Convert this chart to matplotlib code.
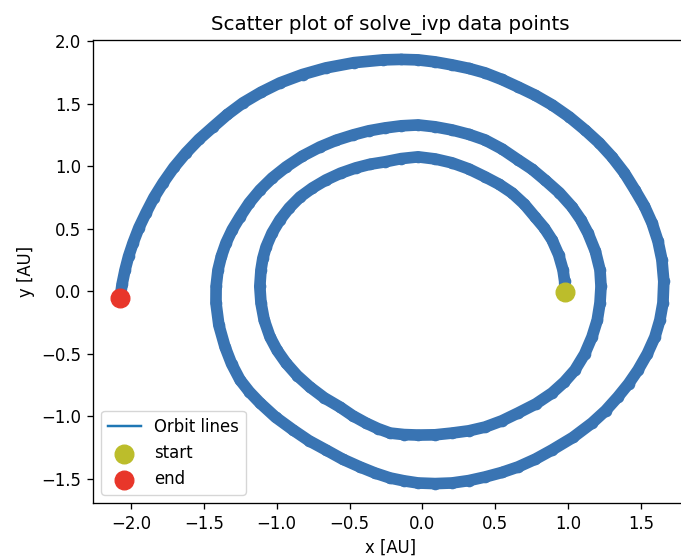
#!/usr/bin/env python3
"""Spiral orbit from solve_ivp, drawn as a dense scatter with start/end markers."""

import matplotlib
matplotlib.use("Agg")
import matplotlib.pyplot as plt

# orbit samples (x, y in AU), in time order
orbit_x = [0.979, 0.976, 0.965, 0.935, 0.890, 0.837, 0.773, 0.700, 0.615, 0.526,
           0.430, 0.319, 0.203, 0.088, -0.030, -0.145, -0.257, -0.359, -0.456, -0.562,
           -0.662, -0.755, -0.840, -0.914, -0.978, -1.032, -1.073, -1.095, -1.108, -1.116,
           -1.108, -1.086, -1.046, -0.997, -0.936, -0.860, -0.772, -0.674, -0.566, -0.479,
           -0.387, -0.306, -0.222, -0.126, -0.030, 0.087, 0.203, 0.319, 0.430, 0.546,
           0.656, 0.779, 0.890, 0.974, 1.047, 1.114, 1.164, 1.200, 1.219, 1.226,
           1.219, 1.187, 1.136, 1.087, 1.027, 0.940, 0.841, 0.753, 0.656, 0.546,
           0.430, 0.318, 0.203, 0.087, -0.030, -0.145, -0.257, -0.368, -0.476, -0.593,
           -0.703, -0.825, -0.936, -1.031, -1.115, -1.189, -1.252, -1.305, -1.348, -1.380,
           -1.403, -1.416, -1.417, -1.397, -1.355, -1.310, -1.252, -1.188, -1.115, -1.008,
           -0.888, -0.779, -0.662, -0.547, -0.428, -0.326, -0.222, -0.126, -0.030, 0.087,
           0.203, 0.318, 0.430, 0.545, 0.656, 0.776, 0.890, 1.033, 1.164, 1.258,
           1.342, 1.415, 1.480, 1.544, 1.596, 1.630, 1.651, 1.657, 1.644, 1.617,
           1.576, 1.524, 1.459, 1.386, 1.301, 1.213, 1.116, 1.007, 0.890, 0.775,
           0.656, 0.544, 0.430, 0.318, 0.203, 0.087, -0.030, -0.150, -0.270, -0.469,
           -0.662, -0.823, -0.978, -1.108, -1.232, -1.338, -1.437, -1.534, -1.622, -1.706,
           -1.780, -1.843, -1.897, -1.946, -1.986, -2.017, -2.041, -2.061, -2.075]
orbit_y = [-0.006, 0.082, 0.170, 0.292, 0.410, 0.505, 0.594, 0.695, 0.786, 0.855,
           0.914, 0.977, 1.026, 1.057, 1.074, 1.060, 1.034, 1.015, 0.986, 0.943,
           0.889, 0.825, 0.753, 0.666, 0.570, 0.465, 0.354, 0.263, 0.170, 0.038,
           -0.094, -0.232, -0.366, -0.473, -0.574, -0.674, -0.766, -0.852, -0.926, -0.995,
           -1.054, -1.098, -1.134, -1.146, -1.150, -1.148, -1.134, -1.116, -1.086, -1.036,
           -0.974, -0.901, -0.814, -0.726, -0.630, -0.502, -0.366, -0.232, -0.094, 0.038,
           0.170, 0.320, 0.466, 0.573, 0.674, 0.787, 0.889, 0.975, 1.050, 1.137,
           1.209, 1.254, 1.289, 1.314, 1.329, 1.322, 1.305, 1.282, 1.249, 1.206,
           1.153, 1.079, 0.993, 0.905, 0.809, 0.705, 0.594, 0.492, 0.386, 0.279,
           0.170, 0.038, -0.094, -0.272, -0.445, -0.580, -0.709, -0.804, -0.893, -1.007,
           -1.109, -1.195, -1.269, -1.343, -1.405, -1.453, -1.493, -1.516, -1.533, -1.538,
           -1.533, -1.514, -1.485, -1.449, -1.405, -1.342, -1.269, -1.169, -1.054, -0.954,
           -0.845, -0.740, -0.630, -0.500, -0.366, -0.231, -0.094, 0.078, 0.250, 0.400,
           0.546, 0.680, 0.809, 0.946, 1.074, 1.186, 1.289, 1.394, 1.489, 1.566,
           1.633, 1.693, 1.745, 1.781, 1.809, 1.833, 1.849, 1.853, 1.849, 1.827,
           1.785, 1.732, 1.665, 1.590, 1.505, 1.413, 1.313, 1.213, 1.106, 0.989,
           0.866, 0.748, 0.626, 0.507, 0.386, 0.278, 0.170, 0.058, -0.054]

title = "Scatter plot of solve_ivp data points"
x_label = "x [AU]"
y_label = "y [AU]"
x_ticks = [-2.0, -1.5, -1.0, -0.5, 0.0, 0.5, 1.0, 1.5]
y_ticks = [-1.5, -1.0, -0.5, 0.0, 0.5, 1.0, 1.5, 2.0]

POINT_COLOR = "#3974b3"
K = 1.19           # the reference is a scaled-up screenshot
FS = 10 * K

plt.rcParams.update({
    "axes.linewidth": 0.8 * K,
    "xtick.major.size": 3.5 * K,
    "ytick.major.size": 3.5 * K,
    "xtick.major.width": 0.8 * K,
    "ytick.major.width": 0.8 * K,
    "xtick.major.pad": 3.5 * K,
    "ytick.major.pad": 3.5 * K,
})

fig = plt.figure(figsize=(6.81, 5.58), dpi=100)
ax = fig.add_axes([93 / 681, 55 / 558, 595 / 681, 463 / 558])
# the screenshot is cropped just before the right frame line
ax.spines["right"].set_visible(False)

# thin orbit line (legend entry), then the dense sample band on top
ax.plot(orbit_x, orbit_y, color="tab:blue", lw=1.5 * K, label="Orbit lines", zorder=2)
ax.plot(orbit_x, orbit_y, color=POINT_COLOR, lw=8.4,
        solid_capstyle="round", solid_joinstyle="round", zorder=3)
ax.scatter(orbit_x, orbit_y, s=70, color=POINT_COLOR, linewidths=0, zorder=3)

ax.scatter(orbit_x[0], orbit_y[0], s=180, color="#bcbd2b", zorder=4, label="start")
ax.scatter(orbit_x[-1], orbit_y[-1], s=180, color="#e8362a", zorder=4, label="end")

ax.set_xlim(-2.261, 1.823)
ax.set_ylim(-1.693, 2.008)
ax.set_xticks(x_ticks)
ax.set_yticks(y_ticks)
ax.tick_params(labelsize=FS)
ax.set_xlabel(x_label, fontsize=FS, labelpad=4 * K)
ax.set_ylabel(y_label, fontsize=FS, labelpad=4 * K)
ax.set_title(title, fontsize=12 * K, pad=6 * K)
ax.legend(loc="lower left", fontsize=FS)

fig.savefig("out.png", dpi=100)
